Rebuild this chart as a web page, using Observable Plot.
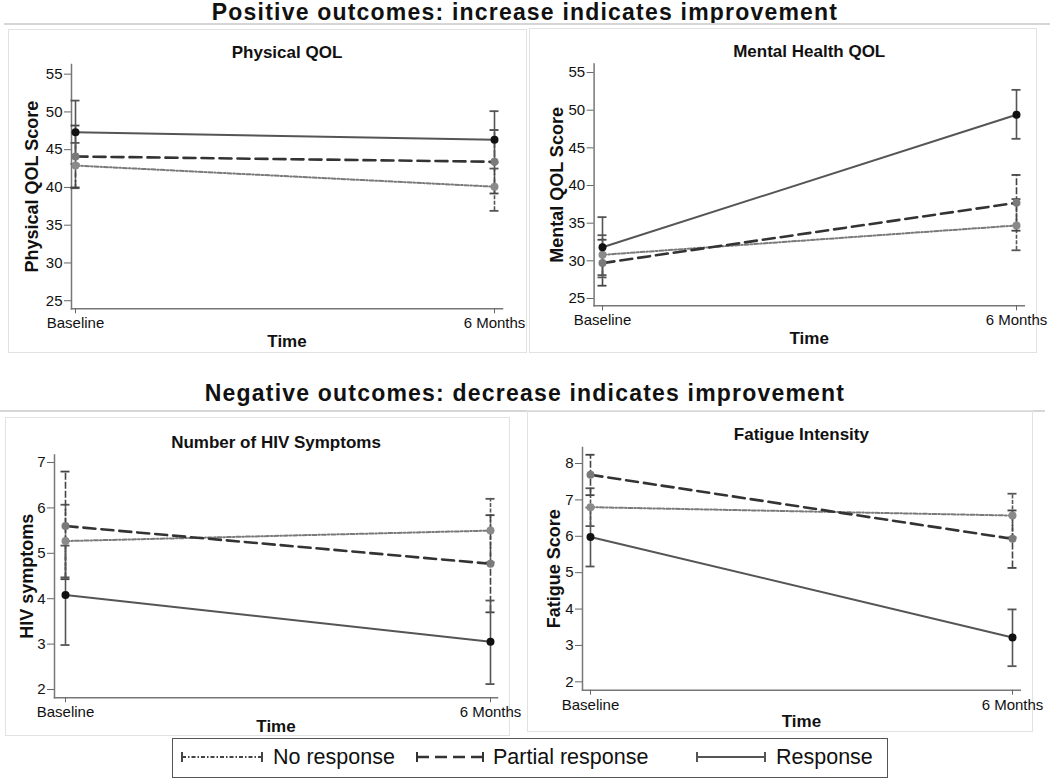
<!DOCTYPE html>
<html><head><meta charset="utf-8">
<script src="https://cdn.jsdelivr.net/npm/d3@7"></script>
<script src="https://cdn.jsdelivr.net/npm/@observablehq/plot@0.6"></script>
<style>
body{margin:0;background:#fff;font-family:"Liberation Sans",Arial,sans-serif;}
#root{position:relative;width:1050px;height:784px;overflow:hidden;background:#fff}
.hdr{position:absolute;left:0;width:1050px;text-align:center;font-weight:bold;font-size:23px;line-height:23px;color:#111;letter-spacing:1.2px;white-space:nowrap}
.hline{position:absolute;height:2px;background:#d6d6d6}
.pbox{position:absolute;border:1px solid #e2e2e2;box-sizing:border-box}
.psvg{position:absolute}
.psvg svg{display:block;overflow:visible}
#legend{position:absolute;left:172px;top:738px;width:716px;height:40px;border:1.5px solid #555;box-sizing:border-box;background:#fff}
#legend .lt{position:absolute;top:0;line-height:37px;font-size:21.5px;color:#111;white-space:nowrap}
#legend svg{position:absolute;top:9px}
</style></head><body><div id="root"></div>
<script>
// ---- data ----
const times = ["Baseline", "6 Months"];
const groups = ["No response", "Partial response", "Response"];

// [group][time]
const physMean = [[42.9, 40.1], [44.1, 43.4], [47.3, 46.3]];
const physLo   = [[39.9, 36.9], [40.0, 39.2], [43.1, 42.5]];
const physHi   = [[45.9, 43.3], [48.2, 47.6], [51.5, 50.1]];
const physTicks = [25, 30, 35, 40, 45, 50, 55];

const mentMean = [[30.8, 34.7], [29.7, 37.7], [31.8, 49.4]];
const mentLo   = [[28.1, 31.4], [26.7, 34.0], [27.8, 46.2]];
const mentHi   = [[33.4, 38.2], [32.8, 41.4], [35.8, 52.7]];
const mentTicks = [25, 30, 35, 40, 45, 50, 55];

const hivMean = [[5.27, 5.50], [5.60, 4.77], [4.08, 3.05]];
const hivLo   = [[4.47, 4.80], [4.43, 3.70], [2.98, 2.12]];
const hivHi   = [[6.07, 6.20], [6.80, 5.84], [5.17, 3.96]];
const hivTicks = [2, 3, 4, 5, 6, 7];

const fatMean = [[6.80, 6.57], [7.69, 5.93], [5.98, 3.22]];
const fatLo   = [[6.28, 5.97], [7.13, 5.13], [5.17, 2.43]];
const fatHi   = [[7.32, 7.17], [8.24, 6.71], [6.79, 3.99]];
const fatTicks = [2, 3, 4, 5, 6, 7, 8];

// ---- styles ----
const FONT = '"Liberation Sans", Arial, sans-serif';
const seriesStyle = {
  "No response":      {line: "#7a7a7a", width: 2,   dash: "4,2,1.5,2", dot: "#8a8a8a", bar: "#555", barDash: "4,1.5", legend: "#444"},
  "Partial response": {line: "#333333", width: 2.6, dash: "12,6",      dot: "#7a7a7a", bar: "#444", barDash: "7,2",   legend: "#333"},
  "Response":         {line: "#555555", width: 2,   dash: null,        dot: "#111111", bar: "#555", barDash: null,    legend: "#555"}
};

const root = document.getElementById("root");
function addDiv(cls, css, html) {
  const d = document.createElement("div");
  d.className = cls;
  Object.assign(d.style, css);
  if (html != null) d.innerHTML = html;
  root.appendChild(d);
  return d;
}

addDiv("hdr", {top: "1px"}, "Positive outcomes: increase indicates improvement");
addDiv("hline", {left: "4px", top: "23px", width: "1046px"});
addDiv("hdr", {top: "382px"}, "Negative outcomes: decrease indicates improvement");
addDiv("hline", {left: "0px", top: "410px", width: "1045px"});

function panel(cfg) {
  const data = [];
  groups.forEach((g, gi) => times.forEach((t, ti) => data.push({
    group: g, time: t, mean: cfg.mean[gi][ti], lo: cfg.lo[gi][ti], hi: cfg.hi[gi][ti]
  })));
  const m = cfg.m;
  const marks = [
    Plot.frame({anchor: "left", stroke: "#777", strokeWidth: 1.5}),
    Plot.frame({anchor: "bottom", stroke: "#777", strokeWidth: 1.5}),
    Plot.axisY({ticks: cfg.ticks, tickFormat: d => String(d), tickSize: 7, tickPadding: 2, fontSize: 15, label: null, stroke: "#666", fill: "#111"}),
    Plot.axisX({tickSize: 5, tickPadding: 4, fontSize: 15, label: null, stroke: "#666", fill: "#111"})
  ];
  for (const g of groups) {
    const s = seriesStyle[g];
    const d = data.filter(r => r.group === g);
    marks.push(
      Plot.ruleX(d, {x: "time", y1: "lo", y2: "hi", stroke: s.bar, strokeWidth: 1.6, strokeDasharray: s.barDash}),
      Plot.ruleY(d, {x1: "time", x2: "time", y: "lo", insetLeft: -4.5, insetRight: -4.5, stroke: s.bar, strokeWidth: 1.8}),
      Plot.ruleY(d, {x1: "time", x2: "time", y: "hi", insetLeft: -4.5, insetRight: -4.5, stroke: s.bar, strokeWidth: 1.8})
    );
  }
  for (const g of groups) {
    const s = seriesStyle[g];
    const d = data.filter(r => r.group === g);
    marks.push(
      Plot.line(d, {x: "time", y: "mean", stroke: s.line, strokeWidth: s.width, strokeDasharray: s.dash}),
      Plot.dot(d, {x: "time", y: "mean", r: 4, fill: s.dot, stroke: "none"})
    );
  }
  marks.push(
    Plot.text([cfg.title], {text: d => d, frameAnchor: "top", textAnchor: "middle", lineAnchor: "middle", dy: cfg.titleDy, fontSize: 17, fontWeight: "bold", fill: "#111"}),
    Plot.text([cfg.ylabel], {text: d => d, frameAnchor: "left", textAnchor: "middle", lineAnchor: "middle", rotate: -90, dx: cfg.ylabDx, fontSize: 18, fontWeight: "bold", fill: "#111"}),
    Plot.text(["Time"], {text: d => d, frameAnchor: "bottom", textAnchor: "middle", lineAnchor: "middle", dy: cfg.timeDy, fontSize: 17, fontWeight: "bold", fill: "#111"})
  );
  const svg = Plot.plot({
    width: cfg.w, height: cfg.h,
    marginLeft: m[0], marginRight: m[1], marginTop: m[2], marginBottom: m[3],
    x: {type: "point", domain: times, range: cfg.xr, padding: 0},
    y: {domain: cfg.yd},
    style: {fontFamily: FONT, background: "transparent", color: "#111", overflow: "visible"},
    marks
  });
  addDiv("pbox", {left: cfg.left + "px", top: cfg.top + "px", width: cfg.w + "px", height: cfg.h + "px"});
  const holder = addDiv("psvg", {left: cfg.left + "px", top: cfg.top + "px", width: cfg.w + "px", height: cfg.h + "px"});
  holder.appendChild(svg);
}

panel({title: "Physical QOL", ylabel: "Physical QOL Score", mean: physMean, lo: physLo, hi: physHi, ticks: physTicks,
  left: 8, top: 29, w: 519, h: 324, m: [63, 25, 35, 44.7], yd: [23.93, 56.28], xr: [67.1, 486.6],
  titleDy: -11.6, ylabDx: -39, timeDy: 32.5});
panel({title: "Mental Health QOL", ylabel: "Mental QOL Score", mean: mentMean, lo: mentLo, hi: mentHi, ticks: mentTicks,
  left: 529, top: 28, w: 508, h: 325, m: [64.6, 13.2, 35.6, 47.7], yd: [24.03, 56.12], xr: [73, 487],
  titleDy: -12.7, ylabDx: -36.6, timeDy: 32.7});
panel({title: "Number of HIV Symptoms", ylabel: "HIV symptoms", mean: hivMean, lo: hivLo, hi: hivHi, ticks: hivTicks,
  left: 5, top: 417, w: 505, h: 319, m: [49, 13, 37.5, 38.8], yd: [1.82, 7.165], xr: [59.2, 485],
  titleDy: -12.8, ylabDx: -27, timeDy: 29});
panel({title: "Fatigue Intensity", ylabel: "Fatigue Score", mean: fatMean, lo: fatLo, hi: fatHi, ticks: fatTicks,
  left: 527, top: 410, w: 506, h: 322, m: [55, 13.2, 37, 42.3], yd: [1.77, 8.44], xr: [62.6, 485],
  titleDy: -13.4, ylabDx: -28.5, timeDy: 31.1});

// ---- legend ----
const legend = addDiv("", {}, "");
legend.id = "legend";
const swX = [8, 243, 523], swW = [82, 68, 70], txX = [100, 320, 603];
groups.forEach((g, i) => {
  const s = seriesStyle[g];
  const w = swW[i];
  const ns = "http://www.w3.org/2000/svg";
  const svg = document.createElementNS(ns, "svg");
  svg.setAttribute("width", w); svg.setAttribute("height", 18);
  svg.style.left = swX[i] + "px";
  const mk = (x1, y1, x2, y2, dash, sw) => {
    const l = document.createElementNS(ns, "line");
    l.setAttribute("x1", x1); l.setAttribute("y1", y1); l.setAttribute("x2", x2); l.setAttribute("y2", y2);
    l.setAttribute("stroke", s.legend);
    l.setAttribute("stroke-width", sw);
    if (dash) l.setAttribute("stroke-dasharray", dash);
    svg.appendChild(l);
  };
  mk(1, 9, w - 1, 9, s.dash, s.width);
  mk(1, 4, 1, 14, null, 2);
  mk(w - 1, 4, w - 1, 14, null, 2);
  legend.appendChild(svg);
  const t = document.createElement("div");
  t.className = "lt"; t.style.left = txX[i] + "px"; t.textContent = g;
  legend.appendChild(t);
});
</script></body></html>
